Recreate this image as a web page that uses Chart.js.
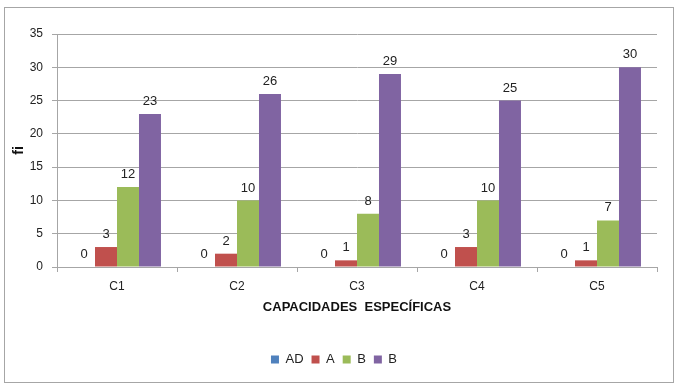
<!DOCTYPE html>
<html>
<head>
<meta charset="utf-8">
<script src="https://cdn.jsdelivr.net/npm/chart.js@4.4.0/dist/chart.umd.min.js"></script>
<style>
  html, body { margin: 0; padding: 0; background: #fff; }
  #box { position: absolute; left: 4px; top: 7px; width: 668px; height: 374px; border: 1px solid #a6a6a6; }
  #chart { display: block; }
</style>
</head>
<body>
<div id="box"><canvas id="chart" width="668" height="374"></canvas></div>
<script>
var categories = ['C1', 'C2', 'C3', 'C4', 'C5'];
var seriesNames = ['AD', 'A', 'B', 'B'];
var adValues = [0, 0, 0, 0, 0];
var aValues = [3, 2, 1, 3, 1];
var bValues = [12, 10, 8, 10, 7];
var b2Values = [23, 26, 29, 25, 30];
var yTicks = [0, 5, 10, 15, 20, 25, 30, 35];

var fontFamily = '"Liberation Sans", Arial, sans-serif';

// values written above every bar
var barLabels = {
    id: 'barLabels',
    afterDatasetsDraw: function(chart){
        var ctx = chart.ctx;
        ctx.save();
        ctx.font = '13px ' + fontFamily;
        ctx.fillStyle = '#222';
        ctx.textAlign = 'center';
        ctx.textBaseline = 'bottom';
        chart.data.datasets.forEach(function(ds, i){
            chart.getDatasetMeta(i).data.forEach(function(bar, j){
                ctx.fillText(String(ds.data[j]), bar.x, bar.y - 6);
            });
        });
        ctx.restore();
    }
};

new Chart(document.getElementById('chart'), {
    type: 'bar',
    data: {
        labels: categories,
        datasets: [
            { label: seriesNames[0], data: adValues, backgroundColor: '#4f81bd' },
            { label: seriesNames[1], data: aValues, backgroundColor: '#c0504d' },
            { label: seriesNames[2], data: bValues, backgroundColor: '#9bbb59' },
            { label: seriesNames[3], data: b2Values, backgroundColor: '#8064a2' }
        ]
    },
    options: {
        responsive: false,
        animation: false,
        layout: { padding: { top: 26, right: 16, bottom: 6, left: 6 } },
        datasets: { bar: { categoryPercentage: 0.733, barPercentage: 1.0 } },
        plugins: {
            legend: {
                position: 'bottom',
                labels: { boxWidth: 8, boxHeight: 8, padding: 8, color: '#222', font: { family: fontFamily, size: 13 } }
            },
            tooltip: { enabled: false }
        },
        scales: {
            x: {
                grid: { display: true, drawOnChartArea: false, offset: true, color: '#a6a6a6', tickLength: 5 },
                border: { color: '#a6a6a6' },
                ticks: { color: '#222', padding: 7, font: { family: fontFamily, size: 12 } },
                title: { display: true, text: 'CAPACIDADES  ESPECÍFICAS', color: '#111', font: { family: fontFamily, size: 13, weight: 'bold' }, padding: { top: 2, bottom: 30 } },
                afterFit: function(scale){ scale.height = 78; }
            },
            y: {
                min: 0, max: 35,
                afterBuildTicks: function(scale){ scale.ticks = yTicks.map(function(v){ return { value: v }; }); },
                grid: { color: '#a6a6a6', tickLength: 5 },
                border: { color: '#a6a6a6' },
                ticks: { color: '#222', padding: 9, font: { family: fontFamily, size: 12 } },
                title: { display: true, text: 'fi', color: '#111', font: { family: fontFamily, size: 14, weight: 'bold' }, padding: 0 },
                afterFit: function(scale){ scale.width = 46; }
            }
        }
    },
    plugins: [barLabels]
});
</script>
</body>
</html>
